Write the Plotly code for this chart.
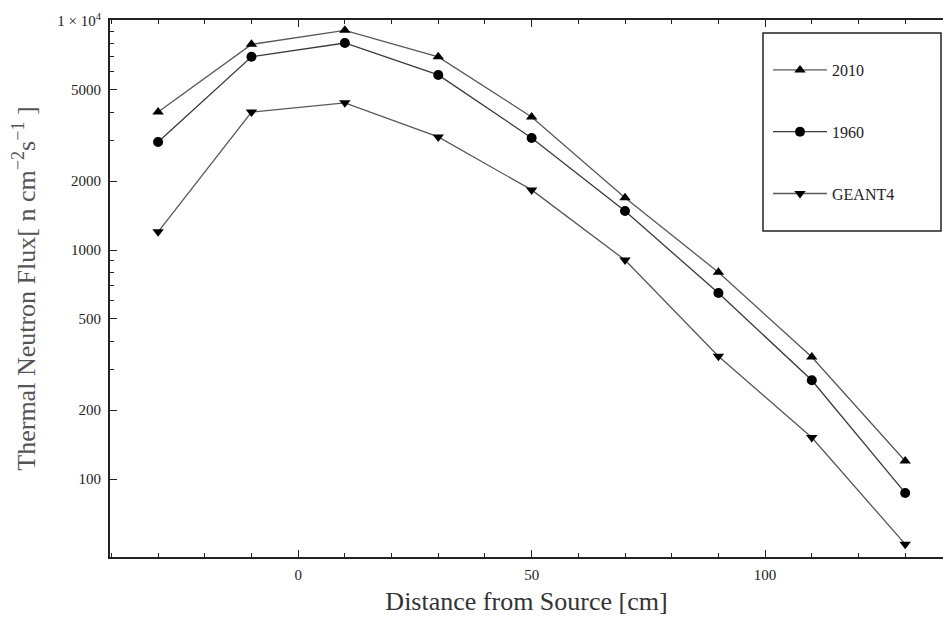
import plotly.graph_objects as go

distance_cm = [-30, -10, 10, 30, 50, 70, 90, 110, 130]
flux_2010 = [4000, 7900, 9100, 6970, 3810, 1690, 800, 341, 120]
flux_1960 = [2960, 6970, 8010, 5810, 3085, 1480, 649, 270, 87]
flux_geant4 = [1200, 4000, 4390, 3115, 1830, 904, 344, 152, 52]

series_names = ["2010", "1960", "GEANT4"]
y_tick_vals = [100, 200, 500, 1000, 2000, 5000, 10000]
y_tick_text = ["100", "200", "500", "1000", "2000", "5000", "1 \u00d7 10<sup>4</sup>"]
y_minor_vals = [300, 400, 600, 700, 800, 900, 3000, 4000, 6000, 7000, 8000, 9000]
x_tick_vals = [0, 50, 100]

FONT = "Liberation Serif, Times New Roman, serif"
LINE = "#585858"

fig = go.Figure()
symbols = ["triangle-up", "circle", "triangle-down"]
for name, vals, sym in zip(series_names, [flux_2010, flux_1960, flux_geant4], symbols):
    fig.add_trace(go.Scatter(
        x=distance_cm, y=vals, name=name, mode="lines+markers",
        legendgroup=name,
        line=dict(color=LINE if name != "1960" else "#3a3a3a", width=1.3),
        marker=dict(symbol=sym, size=10, color="black", line=dict(width=0)),
    ))

W, H = 943, 618
ml, mr, mt, mb = 110, 0, 20, 61
pw, ph = W - ml - mr, H - mt - mb

def px(xp):
    return (xp - ml) / pw

def py(yp):
    return (H - mb - yp) / ph

fig.add_shape(type="rect", xref="paper", yref="paper",
              x0=px(763), x1=px(941), y0=py(231), y1=py(33),
              line=dict(color="#222", width=1.5), fillcolor="white", layer="below")

fig.update_layout(
    width=W, height=H,
    margin=dict(l=ml, r=mr, t=mt, b=mb, pad=0),
    paper_bgcolor="white", plot_bgcolor="white",
    font=dict(family=FONT, color="#222"),
    showlegend=True,
    legend=dict(
        x=px(768), y=py(53), xanchor="left", yanchor="top",
        bgcolor="rgba(0,0,0,0)", borderwidth=0,
        font=dict(family=FONT, size=16, color="#222"),
        tracegroupgap=38, itemwidth=54,
    ),
    xaxis=dict(
        range=[-40.3, 138.1], showgrid=False, zeroline=False,
        showline=True, linecolor="#222", linewidth=1.5, mirror="ticks",
        tickmode="array", tickvals=x_tick_vals,
        ticks="inside", ticklen=7, tickwidth=1.2, tickcolor="#222",
        minor=dict(dtick=10, tick0=0, ticks="inside", ticklen=4, tickwidth=1, tickcolor="#222"),
        tickfont=dict(family=FONT, size=15, color="#222"),
        ticklabelstandoff=3,
        title=dict(text="Distance from Source [cm]", font=dict(family=FONT, size=26, color="#333"), standoff=10),
        automargin=False,
    ),
    yaxis=dict(
        type="log", range=[1.660, 4.004], showgrid=False, zeroline=False,
        showline=True, linecolor="#222", linewidth=2,
        tickmode="array", tickvals=y_tick_vals, ticktext=y_tick_text,
        ticks="inside", ticklen=7, tickwidth=1.2, tickcolor="#222",
        minor=dict(tickmode="array", tickvals=y_minor_vals, ticks="inside", ticklen=4, tickwidth=1, tickcolor="#222"),
        tickfont=dict(family=FONT, size=15, color="#222"),
        ticklabelstandoff=4,
        title=dict(text="Thermal Neutron Flux[ n cm<sup>\u22122</sup>s<sup>\u22121</sup> ]",
                   font=dict(family=FONT, size=26, color="#555"), standoff=14),
        automargin=False,
    ),
)

fig.write_html("out.html")
